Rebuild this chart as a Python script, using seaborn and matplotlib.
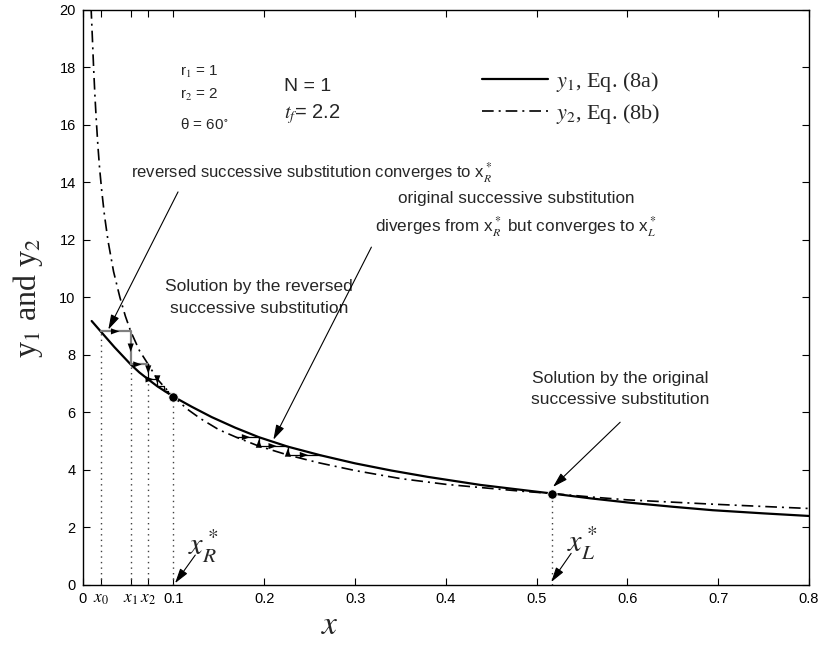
import numpy as np
import pandas as pd
import matplotlib
matplotlib.use('Agg')
import matplotlib.pyplot as plt
import seaborn as sns

# ---- data ----
y1_x = [0.0099, 0.0198, 0.035, 0.0529, 0.0625, 0.0722, 0.0822, 0.09, 0.1, 0.12, 0.142, 0.168,
        0.194, 0.226, 0.262, 0.3, 0.34, 0.38, 0.438, 0.48, 0.517, 0.56, 0.6, 0.65, 0.694, 0.75, 0.8]
y1_y = [9.18, 8.82, 8.27, 7.67, 7.39, 7.15, 6.91, 6.75, 6.55, 6.2, 5.84, 5.47,
        5.14, 4.81, 4.51, 4.23, 3.98, 3.76, 3.48, 3.32, 3.18, 3.01, 2.87, 2.72, 2.60, 2.49, 2.40]

y2_x = [0.0092, 0.0105, 0.012, 0.0135, 0.015, 0.0168, 0.0186, 0.021, 0.024, 0.028, 0.034, 0.041,
        0.047, 0.0529, 0.0625, 0.0722, 0.0822, 0.09, 0.1, 0.115, 0.13, 0.15, 0.169, 0.194, 0.226,
        0.26, 0.3, 0.35, 0.4, 0.438, 0.48, 0.517, 0.56, 0.6, 0.65, 0.694, 0.75, 0.8]
y2_y = [20.1, 19.15, 18.0, 17.0, 16.15, 15.25, 14.5, 13.7, 12.85, 11.95, 10.9, 10.0,
        9.35, 8.82, 8.15, 7.67, 7.16, 6.88, 6.55, 6.12, 5.78, 5.40, 5.14, 4.83, 4.52,
        4.25, 3.98, 3.70, 3.50, 3.39, 3.27, 3.18, 3.06, 2.96, 2.88, 2.81, 2.73, 2.66]

# reversed successive substitution staircase (converges to x_R*)
stair1_x = [0.0198, 0.0529, 0.0529, 0.0722, 0.0722, 0.0822, 0.0822, 0.09, 0.09, 0.0945, 0.0945, 0.0975]
stair1_y = [8.82, 8.82, 7.67, 7.67, 7.15, 7.15, 6.91, 6.91, 6.75, 6.75, 6.66, 6.66]
# original successive substitution staircase (diverges from x_R*)
stair2_x = [0.169, 0.194, 0.194, 0.226, 0.226, 0.262]
stair2_y = [5.14, 5.14, 4.83, 4.83, 4.52, 4.52]

iter_x = [0.0198, 0.0529, 0.0722]          # x0, x1, x2
iter_y = [8.82, 7.67, 7.15]
sol_x = [0.1, 0.517]                         # x_R*, x_L*
sol_y = [6.55, 3.18]

xtick_vals = [0, 0.0198, 0.0529, 0.0722, 0.1, 0.2, 0.3, 0.4, 0.5, 0.6, 0.7, 0.8]
xtick_labels = ['0', r'$x_0$', r'$x_1$', r'$x_2$', '0.1', '0.2', '0.3', '0.4', '0.5', '0.6', '0.7', '0.8']
ytick_vals = [0, 2, 4, 6, 8, 10, 12, 14, 16, 18, 20]

legend_labels = [r'$y_1$, Eq. (8a)', r'$y_2$, Eq. (8b)']

# ---- styling ----
sns.set_theme(style='ticks')
plt.rcParams['font.family'] = ['Liberation Sans', 'DejaVu Sans']
plt.rcParams['mathtext.fontset'] = 'stix'
NARROW = ['Liberation Sans Narrow', 'Liberation Sans', 'DejaVu Sans']
SERIF = ['Liberation Serif', 'DejaVu Serif']

fig = plt.figure(figsize=(8.22, 6.52), dpi=100)
ax = fig.add_axes([0.1006, 0.1028, 0.8836, 0.882])

df1 = pd.DataFrame({'x': y1_x, 'y': y1_y})
df2 = pd.DataFrame({'x': y2_x, 'y': y2_y})
sns.lineplot(data=df1, x='x', y='y', ax=ax, color='black', lw=1.6, sort=False,
             estimator=None, label=legend_labels[0])
sns.lineplot(data=df2, x='x', y='y', ax=ax, color='black', lw=1.2, sort=False,
             estimator=None, label=legend_labels[1], linestyle=(0, (7, 3, 1.2, 3)))

# dotted verticals
for xv, yv in zip(iter_x + sol_x, iter_y + sol_y):
    ax.plot([xv, xv], [0, yv], linestyle=(0, (1, 3)), color='0.25', lw=1.0)

# staircases
ax.plot(stair1_x[:4], stair1_y[:4], color='0.5', lw=1.6)
ax.plot(stair1_x[3:], stair1_y[3:], color='black', lw=0.9)
ax.plot(stair2_x, stair2_y, color='black', lw=0.9)

def seg_arrows(xs, ys, up_vertical=False, color='black'):
    for i in range(len(xs) - 1):
        x0, y0, x1, y1 = xs[i], ys[i], xs[i + 1], ys[i + 1]
        if up_vertical and x0 == x1:
            x0, y0, x1, y1 = x1, y1, x0, y0
            f = 0.75
        else:
            f = 0.62
        tip = (x0 + f * (x1 - x0), y0 + f * (y1 - y0))
        ax.annotate('', xy=tip, xytext=(x0, y0),
                    arrowprops=dict(arrowstyle='-|>,head_length=0.6,head_width=0.22',
                                    color=color, lw=0.01, shrinkA=0, shrinkB=0,
                                    mutation_scale=10))

seg_arrows(stair1_x[:7], stair1_y[:7])
seg_arrows(stair2_x, stair2_y, up_vertical=True)

# solution points
sns.scatterplot(x=sol_x, y=sol_y, ax=ax, color='black', s=45, zorder=5, legend=False)

# axes setup
ax.set_xlim(0, 0.8)
ax.set_ylim(0, 20)
ax.set_xticks(xtick_vals)
ax.set_xticklabels(xtick_labels)
ax.set_yticks(ytick_vals)
ax.set_yticklabels([str(v) for v in ytick_vals])
ax.tick_params(direction='in', length=5, width=0.8, top=True, right=True,
               labelsize=10.5, colors='black', pad=5)
for lab in ax.get_xticklabels()[1:4]:
    lab.set_fontsize(12.5)
for sp in ax.spines.values():
    sp.set_visible(True)
    sp.set_color('black')
    sp.set_linewidth(1.0)

ax.set_ylabel(r'y$_1$ and y$_2$', fontsize=23, family=SERIF, va='center')
ax.yaxis.set_label_coords(-0.075, 0.5)
ax.set_xlabel(r'$x$', fontsize=24, va='center')
ax.xaxis.set_label_coords(0.34, -0.07)

# legend
handles = ax.get_lines()[:2]
ax.legend(handles, legend_labels, loc='upper left', bbox_to_anchor=(0.522, 0.93),
          frameon=False, prop={'family': SERIF, 'size': 16}, handlelength=3.0,
          labelspacing=0.35, handletextpad=0.35)

# parameter texts
ax.text(0.107, 17.85, r'r$_1$ = 1', fontsize=11, va='center')
ax.text(0.107, 17.04, r'r$_2$ = 2', fontsize=11, va='center')
ax.text(0.107, 16.0, r'θ = 60$^{\circ}$', fontsize=11, va='center')
ax.text(0.222, 17.33, 'N = 1', fontsize=14, va='center')
ax.text(0.222, 16.37, r'$t_f$= 2.2', fontsize=14.5, va='center')

# annotations
ax.text(0.053, 14.33, r'reversed successive substitution converges to x$_R^*$',
        fontsize=12, family=NARROW, va='center')
ax.text(0.477, 12.86, 'original successive substitution\n' + r'diverges from x$_R^*$ but converges to x$_L^*$',
        fontsize=12.3, family=NARROW, va='center', ha='center', linespacing=1.5)
ax.text(0.194, 10.0, 'Solution by the reversed\nsuccessive substitution',
        fontsize=12.5, family=NARROW, va='center', ha='center', linespacing=1.55)
ax.text(0.592, 6.82, 'Solution by the original\nsuccessive substitution',
        fontsize=12.5, family=NARROW, va='center', ha='center', linespacing=1.55)

ax.text(0.133, 1.35, r'$x_R^*$', fontsize=22, ha='center', va='center')
ax.text(0.55, 1.45, r'$x_L^*$', fontsize=22, ha='center', va='center')

big = dict(arrowstyle='-|>,head_length=0.75,head_width=0.22', color='black', lw=0.8,
           shrinkA=0, shrinkB=0, mutation_scale=12)
ax.annotate('', xy=(0.0282, 8.88), xytext=(0.105, 13.67), arrowprops=big)
ax.annotate('', xy=(0.21, 5.05), xytext=(0.318, 11.75), arrowprops=big)
ax.annotate('', xy=(0.518, 3.41), xytext=(0.592, 5.66), arrowprops=big)
ax.annotate('', xy=(0.1017, 0.06), xytext=(0.124, 1.04), arrowprops=big)
ax.annotate('', xy=(0.516, 0.1), xytext=(0.538, 1.1), arrowprops=big)

fig.savefig('out.png', dpi=100)
